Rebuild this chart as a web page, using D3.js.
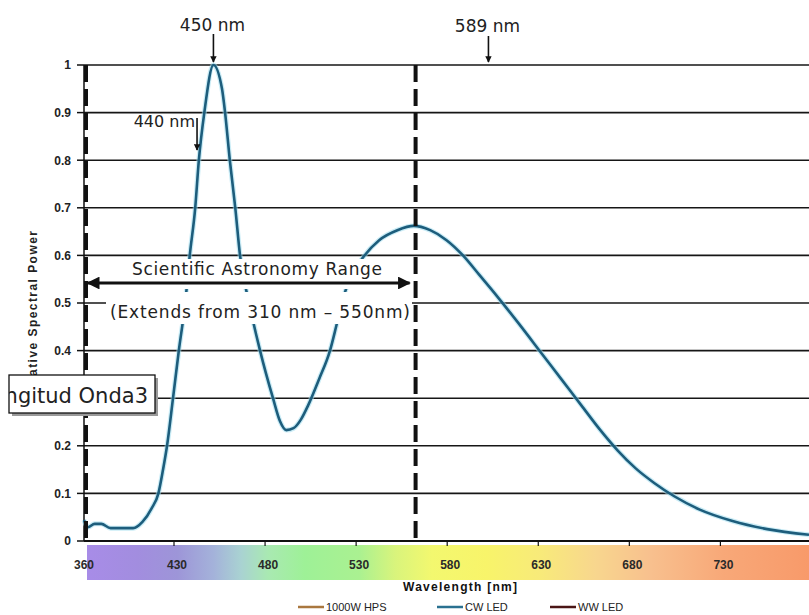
<!DOCTYPE html>
<html>
<head>
<meta charset="utf-8">
<script src="https://cdn.jsdelivr.net/npm/d3@7"></script>
<style>
  body { margin: 0; background: #fff; }
  svg { display: block; }
</style>
</head>
<body>
<div id="chart"></div>
<script>
// values (CW LED relative spectral power)
var wavelength = [360,363,368,373,380,397,404,411,416,419.5,422.5,427,431,434.5,437,440,442,445,450,454.7,
                  456.4,459,462,464.6,469.6,475.6,482.7,486.5,490,494,498,502,508,514,518,522,527,532,541,551,
                  560,569,578,587,596,606,618,630,641,652,662,672,682,692,703,717,735,754,777];
var cwLed = [0.044,0.029,0.036,0.036,0.027,0.027,0.040,0.069,0.100,0.150,0.200,0.300,0.400,0.500,0.600,0.700,0.800,0.900,1.000,0.950,
             0.900,0.800,0.700,0.600,0.500,0.400,0.300,0.252,0.233,0.237,0.255,0.285,0.340,0.400,0.460,0.520,0.565,0.595,0.632,0.653,
             0.662,0.653,0.632,0.600,0.559,0.513,0.455,0.395,0.340,0.285,0.235,0.190,0.152,0.122,0.094,0.066,0.042,0.025,0.013];

var xTicks = [360,430,480,530,580,630,680,730];
var yTicks = [0,0.1,0.2,0.3,0.4,0.5,0.6,0.7,0.8,0.9,1];
var yTickLabels = ["0","0.1","0.2","0.3","0.4","0.5","0.6","0.7","0.8","0.9","1"];

var legendNames = ["1000W HPS","CW LED","WW LED"];
var legendColors = ["#a9773f","#2a7190","#4a1616"];

// spectrum strip under the axis
var spectrumNm = [360,400,430,450,465,480,500,530,550,570,600,630,660,690,730,777];
var spectrumColors = ["#a88ce8","#a28ddf","#9d95d8","#a4b2da","#a9d2d2","#a9e9b2","#9ef197","#aaf191",
                      "#d9f47c","#f3f86f","#f8f46a","#f8ea7a","#f8d68e","#f8c08e","#f8a878","#f89a6a"];

// range of the "scientific astronomy" band and the arrows above the peaks
var bandFrom = 361.5, bandTo = 561;
var arrowLabels = ["450 nm","589 nm","440 nm"];
var arrowAt = [450, 601, 441];

var W = 809, H = 615;

var svg = d3.select("#chart").append("svg")
    .attr("width", W)
    .attr("height", H);

// category-ish axis from the original: first step is squeezed
var x = d3.scaleLinear().domain([360, 430, 777]).range([84, 177, 809]);
var y = d3.scaleLinear().domain([0, 1]).range([541, 65]);

var defs = svg.append("defs");
var grad = defs.append("linearGradient")
    .attr("id", "spectrum")
    .attr("gradientUnits", "userSpaceOnUse")
    .attr("x1", x(360)).attr("x2", x(777))
    .attr("y1", 0).attr("y2", 0);
spectrumNm.forEach(function(nm, i) {
  grad.append("stop")
    .attr("offset", (x(nm) - x(360)) / (x(777) - x(360)))
    .attr("stop-color", spectrumColors[i]);
});

defs.append("marker")
    .attr("id", "head")
    .attr("viewBox", "0 0 10 10")
    .attr("refX", 9).attr("refY", 5)
    .attr("markerWidth", 4).attr("markerHeight", 4)
    .attr("orient", "auto-start-reverse")
  .append("path")
    .attr("d", "M0,0 L10,5 L0,10 z")
    .attr("fill", "#111");

defs.append("clipPath").attr("id", "boxclip")
  .append("rect").attr("x", 9).attr("y", 375).attr("width", 146).attr("height", 38);

// horizontal grid
svg.append("g")
  .selectAll("line")
  .data(yTicks.slice(1))
  .enter()
  .append("line")
    .attr("x1", x(360)).attr("x2", W)
    .attr("y1", function(d) { return y(d); })
    .attr("y2", function(d) { return y(d); })
    .attr("stroke", "#161616")
    .attr("stroke-width", 1.6);

// spectrum bar
svg.append("rect")
    .attr("x", x(360) + 3)
    .attr("y", 545)
    .attr("width", W - x(360) - 3)
    .attr("height", 35)
    .attr("fill", "url(#spectrum)");

// y axis
var yAxis = svg.append("g");
yAxis.append("line")
    .attr("x1", x(360)).attr("x2", x(360))
    .attr("y1", y(1)).attr("y2", y(0))
    .attr("stroke", "#111").attr("stroke-width", 1.5);
yAxis.selectAll("line.tick")
  .data(yTicks)
  .enter()
  .append("line")
    .attr("class", "tick")
    .attr("x1", 77).attr("x2", x(360))
    .attr("y1", function(d) { return y(d); })
    .attr("y2", function(d) { return y(d); })
    .attr("stroke", "#111").attr("stroke-width", 1.5);
yAxis.selectAll("text")
  .data(yTicks)
  .enter()
  .append("text")
    .attr("x", 71)
    .attr("y", function(d) { return y(d); })
    .attr("dy", "0.36em")
    .attr("text-anchor", "end")
    .style("font", "bold 12px 'Liberation Sans', Arial, sans-serif")
    .style("fill", "#222")
    .text(function(d, i) { return yTickLabels[i]; });

// x axis
var xAxis = svg.append("g");
xAxis.append("line")
    .attr("x1", x(360)).attr("x2", W)
    .attr("y1", y(0)).attr("y2", y(0))
    .attr("stroke", "#111").attr("stroke-width", 2);
xAxis.selectAll("line.tick")
  .data(xTicks.slice(1))
  .enter()
  .append("line")
    .attr("class", "tick")
    .attr("x1", function(d) { return x(d) - 3; })
    .attr("x2", function(d) { return x(d) - 3; })
    .attr("y1", y(0)).attr("y2", y(0) + 5)
    .attr("stroke", "#111").attr("stroke-width", 1.2);
xAxis.selectAll("text")
  .data(xTicks)
  .enter()
  .append("text")
    .attr("x", function(d) { return x(d); })
    .attr("y", 569)
    .attr("text-anchor", "middle")
    .style("font", "bold 12px 'Liberation Sans', Arial, sans-serif")
    .style("fill", "#2a2a2a")
    .text(function(d) { return d; });

svg.append("text")
    .attr("x", 460)
    .attr("y", 591)
    .attr("text-anchor", "middle")
    .attr("textLength", 114)
    .style("font", "bold 12px 'Liberation Sans', Arial, sans-serif")
    .style("fill", "#111")
    .text("Wavelength [nm]");

// the curve
var line = d3.line()
    .x(function(d) { return x(d[0]); })
    .y(function(d) { return y(d[1]); })
    .curve(d3.curveMonotoneX);
var pts = wavelength.map(function(w, i) { return [w, cwLed[i]]; });

svg.append("path")
    .attr("d", line(pts))
    .attr("fill", "none")
    .attr("stroke", "#9fdcef")
    .attr("stroke-width", 5)
    .attr("opacity", 0.55);
svg.append("path")
    .attr("d", line(pts))
    .attr("fill", "none")
    .attr("stroke", "#1d5d7c")
    .attr("stroke-width", 2.6);

// dashed band edges
svg.append("g")
  .selectAll("line")
  .data([bandFrom, bandTo])
  .enter()
  .append("line")
    .attr("x1", function(d) { return x(d); })
    .attr("x2", function(d) { return x(d); })
    .attr("y1", y(1)).attr("y2", y(0))
    .attr("stroke", "#111")
    .attr("stroke-width", 4)
    .attr("stroke-dasharray", "17,7");

// text boxes of the band annotation (white, they hide curve and grid)
svg.append("rect").attr("x", 90).attr("y", 259).attr("width", 320).attr("height", 30).attr("fill", "#fff");
svg.append("rect").attr("x", 106).attr("y", 292).attr("width", 306).attr("height", 32).attr("fill", "#fff");

svg.append("text")
    .attr("x", 257).attr("y", 275)
    .attr("text-anchor", "middle")
    .attr("textLength", 250)
    .style("font", "17px 'DejaVu Sans', Verdana, sans-serif")
    .style("fill", "#222")
    .text("Scientific Astronomy Range");
svg.append("text")
    .attr("x", 260).attr("y", 318)
    .attr("text-anchor", "middle")
    .attr("textLength", 300)
    .style("font", "17px 'DejaVu Sans', Verdana, sans-serif")
    .style("fill", "#222")
    .text("(Extends from 310 nm \u2013 550nm)");

svg.append("line")
    .attr("x1", x(bandFrom) + 2).attr("x2", x(bandTo) - 6)
    .attr("y1", 283).attr("y2", 283)
    .attr("stroke", "#111")
    .attr("stroke-width", 3.2)
    .attr("marker-start", "url(#head)")
    .attr("marker-end", "url(#head)");

// peak arrows
var labelY = [31, 32, 127];
var arrowTop = [34, 36, 118];
var arrowEnd = [62, 62, 150];
arrowLabels.forEach(function(lbl, i) {
  var ax = x(arrowAt[i]);
  svg.append("text")
      .attr("x", i === 2 ? ax - 2 : ax - 1)
      .attr("y", labelY[i])
      .attr("text-anchor", i === 2 ? "end" : "middle")
      .style("font", (i === 2 ? "16px" : "17px") + " 'DejaVu Sans', Verdana, sans-serif")
      .style("fill", "#222")
      .text(lbl);
  svg.append("line")
      .attr("x1", ax).attr("x2", ax)
      .attr("y1", arrowTop[i]).attr("y2", arrowEnd[i])
      .attr("stroke", "#111")
      .attr("stroke-width", 1.6)
      .attr("marker-end", "url(#head)");
});

// y title, partly hidden under the box
svg.append("text")
    .attr("transform", "translate(37,315) rotate(-90)")
    .attr("text-anchor", "middle")
    .attr("textLength", 168)
    .style("font", "bold 12px 'Liberation Sans', Arial, sans-serif")
    .style("fill", "#222")
    .text("Relative Spectral Power");

// floating label box
svg.append("rect")
    .attr("x", 12).attr("y", 378).attr("width", 146).attr("height", 38)
    .attr("fill", "#9a9a9a");
svg.append("rect")
    .attr("x", 9).attr("y", 375).attr("width", 146).attr("height", 38)
    .attr("fill", "#fff")
    .attr("stroke", "#111")
    .attr("stroke-width", 1.3);
svg.append("text")
    .attr("clip-path", "url(#boxclip)")
    .attr("x", 148).attr("y", 403)
    .attr("text-anchor", "end")
    .style("font", "21px 'DejaVu Sans', Verdana, sans-serif")
    .style("fill", "#222")
    .text("Longitud Onda3");

// legend
var legendX = [298, 437, 550];
var lg = svg.append("g")
  .selectAll("g")
  .data(legendNames)
  .enter()
  .append("g")
    .attr("transform", function(d, i) { return "translate(" + legendX[i] + ",607)"; });
lg.append("line")
    .attr("x1", 0).attr("x2", 26)
    .attr("stroke", function(d, i) { return legendColors[i]; })
    .attr("stroke-width", 2.5);
lg.append("text")
    .attr("x", 28)
    .attr("dy", "0.36em")
    .style("font", "11px 'Liberation Sans', Arial, sans-serif")
    .style("fill", "#222")
    .text(function(d) { return d; });
</script>
</body>
</html>
